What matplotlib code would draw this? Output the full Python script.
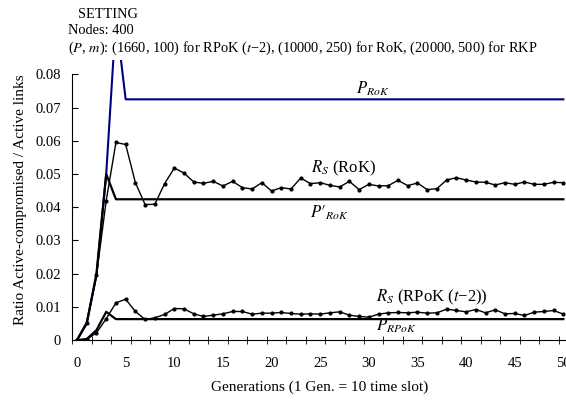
import numpy as np
import matplotlib
matplotlib.use("Agg")
import matplotlib.pyplot as plt

plt.rcParams['font.family'] = ['Liberation Serif', 'DejaVu Serif']
plt.rcParams['mathtext.fontset'] = 'stix'

gens = np.arange(0, 51)

# theoretical curves (rise, then flat)
p_rok_head = [0, 0.0053, 0.0195, 0.050, 0.097]
p_rok_flat = 0.0725
p_rok_prime_head = [0, 0.005, 0.020, 0.050]
p_rok_prime_flat = 0.0424
p_rpok_head = [0, 0.0003, 0.003, 0.0085]
p_rpok_flat = 0.0063

# simulation results
rs_rok = [0, 0.005, 0.0195, 0.042, 0.0595, 0.0589, 0.0474, 0.0408, 0.0409, 0.0471,
          0.0518, 0.0503, 0.0476, 0.0472, 0.0478, 0.0464, 0.0478, 0.0459, 0.0455, 0.0474,
          0.0449, 0.0459, 0.0455, 0.0488, 0.0471, 0.0474, 0.0466, 0.0461, 0.0478, 0.0453,
          0.0469, 0.0464, 0.0465, 0.0481, 0.0465, 0.0473, 0.0453, 0.0456, 0.0482, 0.0489,
          0.0482, 0.0476, 0.0475, 0.0467, 0.0474, 0.0469, 0.0476, 0.0469, 0.0469, 0.0475,
          0.0474]
rs_rpok = [0, 0.0002, 0.0022, 0.0064, 0.0112, 0.0123, 0.0086, 0.0062, 0.0067, 0.0077,
           0.0095, 0.0094, 0.0079, 0.0071, 0.0075, 0.0079, 0.0086, 0.0086, 0.0078, 0.0081,
           0.0081, 0.0083, 0.0080, 0.0078, 0.0079, 0.0078, 0.0082, 0.0085, 0.0075, 0.0071,
           0.0069, 0.0078, 0.0082, 0.0083, 0.0082, 0.0084, 0.0081, 0.0082, 0.0093, 0.0089,
           0.0085, 0.0092, 0.0082, 0.0091, 0.0079, 0.0080, 0.0074, 0.0084, 0.0086, 0.0089,
           0.0078]

def extend(head, flat):
    return list(head) + [flat] * (len(gens) - len(head))

p_rok = extend(p_rok_head, p_rok_flat)
p_rok_prime = extend(p_rok_prime_head, p_rok_prime_flat)
p_rpok = extend(p_rpok_head, p_rpok_flat)

fig = plt.figure(figsize=(5.66, 4.01), dpi=100)
ax = fig.add_axes([0.1275, 0.152, 0.873, 0.698])

ax.plot(gens, p_rok, color='#000080', lw=1.5)
ax.plot(gens, p_rok_prime, color='black', lw=1.6)
ax.plot(gens, p_rpok, color='black', lw=1.6)
ax.plot(gens, rs_rok, color='black', lw=1, marker='o', ms=2)
ax.plot(gens, rs_rpok, color='black', lw=1, marker='o', ms=2)

ax.set_xlim(-0.5, 50.3)
ax.set_ylim(0, 0.0843)
ax.spines['top'].set_visible(False)
ax.spines['right'].set_visible(False)
ax.spines['left'].set_bounds(0, 0.08)

ax.set_yticks(np.arange(0, 0.081, 0.01))
ax.set_yticklabels(['0'] + ['%.2f' % v for v in np.arange(0.01, 0.081, 0.01)])
ax.set_xticks(np.arange(0, 51, 5))
ax.set_xticks(np.arange(-0.5, 50, 2), minor=True)
ax.tick_params(axis='x', which='major', length=0, labelsize=10.5, pad=12)
ax.tick_params(axis='x', which='minor', direction='inout', length=6)
ax.tick_params(axis='y', direction='in', length=4, labelsize=10.5, pad=8)

ax.set_xlabel('Generations (1 Gen. = 10 time slot)', fontsize=11, labelpad=8)
ax.set_ylabel('Ratio Active-compromised / Active links', fontsize=11, labelpad=6)

ax.text(28.7, 0.0758, r'$P_{RoK}$', fontsize=12, va='center')
ax.text(24.1, 0.0517, r'$R_S$ (RoK)', fontsize=12, va='center')
ax.text(24.0, 0.0382, r"$P\prime_{RoK}$", fontsize=12, va='center')
ax.text(30.7, 0.0129, r'$R_S$ (RPoK ($t$−2))', fontsize=12, va='center')
ax.text(30.7, 0.0042, r'$P_{RPoK}$', fontsize=12, va='center')

fig.text(0.138, 0.965, 'SETTING', fontsize=10.4, va='center')
fig.text(0.120, 0.923, 'Nodes: 400', fontsize=10.4, va='center')
fig.text(0.120, 0.880, r'($P$, $m$): (1660, 100) for RPoK ($t$−2), (10000, 250) for RoK, (20000, 500) for RKP',
         fontsize=10.4, va='center')

fig.savefig('out.png', dpi=100)
